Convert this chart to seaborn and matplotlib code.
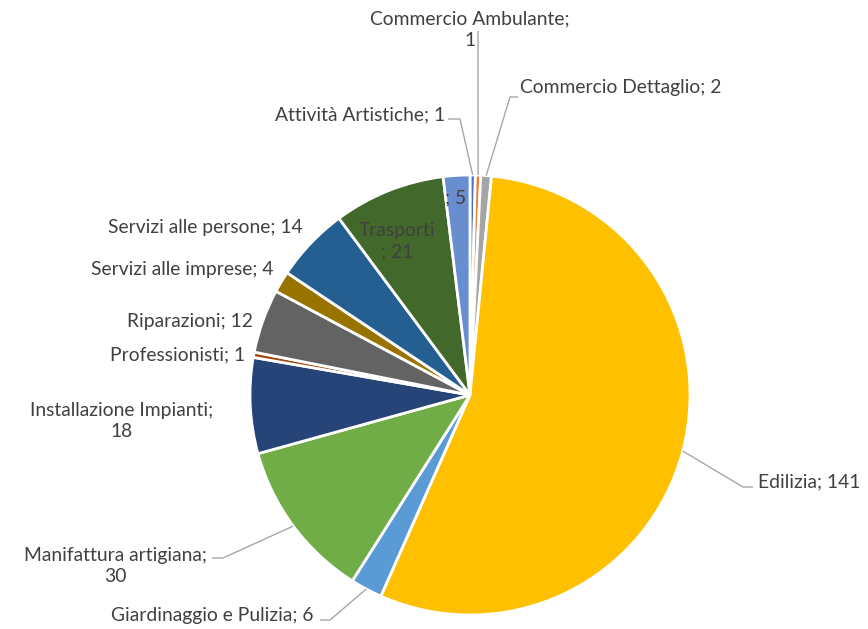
import matplotlib
matplotlib.use('Agg')
import matplotlib.pyplot as plt
import numpy as np
import seaborn as sns

sns.set_theme(style="white")
plt.rcParams['font.family'] = ['Lato', 'DejaVu Sans']

# dati
categories = ['Attività Artistiche', 'Commercio Ambulante', 'Commercio Dettaglio', 'Edilizia',
              'Giardinaggio e Pulizia', 'Manifattura artigiana', 'Installazione Impianti',
              'Professionisti', 'Riparazioni', 'Servizi alle imprese', 'Servizi alle persone',
              'Trasporti', '']
counts = [1, 1, 2, 141, 6, 30, 18, 1, 12, 4, 14, 21, 5]
colors = ['#4472C4', '#ED7D31', '#A5A5A5', '#FFC000', '#5B9BD5', '#70AD47', '#264478',
          '#9E480E', '#636363', '#997300', '#255E91', '#43682B', '#698ED0']

# dove va a capo l'etichetta (Excel)
breaks = {1: ';\n', 5: ';\n', 6: ';\n', 11: '\n; '}

# posizione etichette in pixel: (x, y, ha), e gomito della linea guida
label_pos = {
    0: (445, 115, 'right'), 1: (470, 30, 'center'), 2: (520, 88, 'left'),
    3: (758, 482, 'left'), 4: (313, 615, 'right'), 5: (115, 566, 'center'),
    6: (122, 421, 'center'), 7: (245, 355, 'right'), 8: (253, 321, 'right'),
    9: (273, 269, 'right'), 10: (303, 227, 'right'), 11: (397, 241, 'center'),
    12: (456, 198, 'center'),
}
leaders = {
    0: [(460, 119), (448, 119)],
    1: [(478, 31)],
    2: [(510, 97), (518, 97)],
    3: [(743, 487), (753, 487)],
    4: [(330, 620), (320, 620)],
    5: [(223, 558), (212, 558)],
}

W, H = 868, 629
CX, CY, R = 470, 395, 220


def px(x, y):
    return (x - CX) / R, (CY - y) / R


def make_label(i):
    name, n = categories[i], counts[i]
    if i == 12:
        return f'; {n}'
    sep = breaks.get(i, '; ')
    return f'{name}{sep}{n}'


fig = plt.figure(figsize=(W / 100, H / 100), dpi=100)
ax = fig.add_axes([0, 0, 1, 1])

wedges, _ = ax.pie(counts, colors=sns.color_palette(colors), startangle=90, counterclock=False,
                   radius=1, wedgeprops=dict(edgecolor='white', linewidth=2))

ax.set_aspect('auto')
ax.set_xlim(-CX / R, (W - CX) / R)
ax.set_ylim(-(H - CY) / R, CY / R)
ax.axis('off')

text_color = '#404040'
for i in range(len(counts)):
    x, y, ha = label_pos[i]
    tx, ty = px(x, y)
    ax.text(tx, ty, make_label(i), ha=ha, va='center', multialignment='center',
            fontsize=13.9, color=text_color, linespacing=1.35)
    if i in leaders:
        w = wedges[i]
        mid = np.deg2rad((w.theta1 + w.theta2) / 2)
        pts = [(np.cos(mid), np.sin(mid))] + [px(a, b) for a, b in leaders[i]]
        xs, ys = zip(*pts)
        ax.plot(xs, ys, color='#A6A6A6', lw=1.0, solid_capstyle='butt', clip_on=False)

fig.savefig('out.png', dpi=100)
